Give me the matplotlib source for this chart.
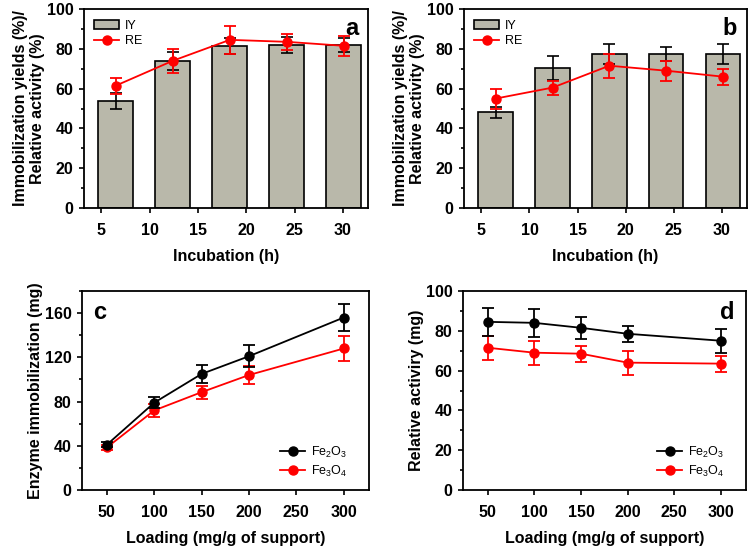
import matplotlib
matplotlib.use("Agg")
import matplotlib.pyplot as plt
from matplotlib.ticker import MultipleLocator

plt.rcParams['font.family'] = ['Liberation Sans', 'DejaVu Sans']
plt.rcParams['font.weight'] = 'bold'
plt.rcParams['mathtext.default'] = 'regular'

# ---- data ----
inc_pos = [6.5, 12.4, 18.3, 24.2, 30.1]
inc_ticks = [5, 10, 15, 20, 25, 30]

a_iy = [54, 74, 81.5, 82, 82]
a_iy_err = [4, 4.5, 4, 4, 3.5]
a_re = [61.5, 74, 84.5, 83.5, 81.5]
a_re_err = [4, 6, 7, 4, 5]

b_iy = [48, 70.5, 77.5, 77.5, 77.5]
b_iy_err = [3, 6, 5, 3.5, 5]
b_re = [55, 60.5, 71.5, 69, 66]
b_re_err = [5, 3.5, 6, 5, 4]

loading = [50, 100, 150, 200, 300]
load_ticks = [50, 100, 150, 200, 250, 300]

c_fe2o3 = [41, 79, 105, 121, 156]
c_fe2o3_err = [2, 5, 8, 10, 12]
c_fe3o4 = [38.5, 72, 88.5, 104, 128]
c_fe3o4_err = [2, 6, 6, 8, 11]

d_fe2o3 = [84.5, 84, 81.5, 78.5, 75]
d_fe2o3_err = [7, 7, 5.5, 4, 6]
d_fe3o4 = [71.5, 69, 68.5, 64, 63.5]
d_fe3o4_err = [6, 6, 4, 6, 4]

W, H = 755, 547
fig = plt.figure(figsize=(W / 100, H / 100), dpi=100)

def ax_px(l, r, t, b):
    return fig.add_axes([l / W, (H - b) / H, (r - l) / W, (b - t) / H])

bar_col = '#b9b8aa'
TS = 11.5
LS = 11.5
MS = 6.5

def style(ax):
    for s in ax.spines.values():
        s.set_linewidth(1.3)
    ax.tick_params(axis='both', which='both', direction='out', top=False, right=False,
                   labelsize=TS, width=1.2)
    ax.tick_params(axis='both', which='major', length=3.5)
    ax.tick_params(axis='both', which='minor', length=2.5)
    ax.tick_params(axis='x', which='major', pad=7)
    ax.tick_params(axis='y', which='major', pad=4)
    for lab in ax.get_xticklabels() + ax.get_yticklabels():
        lab.set_fontweight('bold')

def bar_panel(ax, iy, iye, re, ree, letter):
    hb = ax.bar(inc_pos, iy, width=3.6, color=bar_col, edgecolor='black', linewidth=1.2,
                label='IY', zorder=2)
    ax.errorbar(inc_pos, iy, yerr=iye, fmt='none', ecolor='black', elinewidth=1.2,
                capsize=4, capthick=1.2, zorder=3)
    ax.errorbar(inc_pos, re, yerr=ree, fmt='none', ecolor='red', elinewidth=1.3,
                capsize=4, capthick=1.3, zorder=4)
    hl, = ax.plot(inc_pos, re, color='red', marker='o', markersize=MS, linewidth=1.3,
                  label='RE', zorder=5)
    ax.set_xlim(3.2, 32.6)
    ax.set_ylim(0, 100)
    ax.set_xticks(inc_ticks)
    ax.yaxis.set_major_locator(MultipleLocator(20))
    ax.yaxis.set_minor_locator(MultipleLocator(10))
    ax.set_xlabel('Incubation (h)', fontsize=LS, fontweight='bold', labelpad=8)
    ax.set_ylabel('Immobilization yields (%)/\nRelative activity (%)', fontsize=LS,
                  fontweight='bold', linespacing=1.2, labelpad=1)
    ax.text(0.965, 0.9, letter, transform=ax.transAxes, ha='right', va='center',
            fontsize=17, fontweight='bold')
    ax.legend([hb, hl], ['IY', 'RE'], loc='upper left', frameon=False,
              prop={'size': 9, 'weight': 'normal'},
              handlelength=2.0, handletextpad=0.5, bbox_to_anchor=(0.0, 0.995),
              borderaxespad=0.4, labelspacing=0.25)
    style(ax)

def line_panel(ax, y1, e1, y2, e2, ylim, major, minor, ylabel, letter, lx, ly):
    ax.errorbar(loading, y1, yerr=e1, fmt='none', ecolor='black', elinewidth=1.3,
                capsize=4, capthick=1.3, zorder=4)
    ax.plot(loading, y1, color='black', marker='o', markersize=MS, linewidth=1.3,
            label='Fe$_2$O$_3$', zorder=5)
    ax.errorbar(loading, y2, yerr=e2, fmt='none', ecolor='red', elinewidth=1.3,
                capsize=4, capthick=1.3, zorder=3)
    ax.plot(loading, y2, color='red', marker='o', markersize=MS, linewidth=1.3,
            label='Fe$_3$O$_4$', zorder=3.5)
    ax.set_xlim(23.7, 326.7)
    ax.set_ylim(*ylim)
    ax.set_xticks(load_ticks)
    ax.yaxis.set_major_locator(MultipleLocator(major))
    ax.yaxis.set_minor_locator(MultipleLocator(minor))
    ax.set_xlabel('Loading (mg/g of support)', fontsize=LS, fontweight='bold', labelpad=8)
    ax.set_ylabel(ylabel, fontsize=LS, fontweight='bold', labelpad=1)
    ax.text(lx, ly, letter, transform=ax.transAxes, ha='center', va='center',
            fontsize=17, fontweight='bold')
    ax.legend(loc='lower right', frameon=False, prop={'size': 9, 'weight': 'normal'},
              handlelength=2.0, handletextpad=0.5, bbox_to_anchor=(0.965, 0.0),
              labelspacing=0.3)
    style(ax)

ax_a = ax_px(84, 368, 9, 208)
bar_panel(ax_a, a_iy, a_iy_err, a_re, a_re_err, 'a')
ax_b = ax_px(464, 747, 9, 208)
bar_panel(ax_b, b_iy, b_iy_err, b_re, b_re_err, 'b')

ax_c = ax_px(82, 369, 291, 490)
line_panel(ax_c, c_fe2o3, c_fe2o3_err, c_fe3o4, c_fe3o4_err, (0, 180), 40, 20,
           'Enzyme immobilization (mg)', 'c', 0.06, 0.89)
ax_d = ax_px(463, 746, 291, 490)
line_panel(ax_d, d_fe2o3, d_fe2o3_err, d_fe3o4, d_fe3o4_err, (0, 100), 20, 10,
           'Relative activiry (mg)', 'd', 0.935, 0.89)

fig.savefig('out.png', dpi=100, facecolor='white')
